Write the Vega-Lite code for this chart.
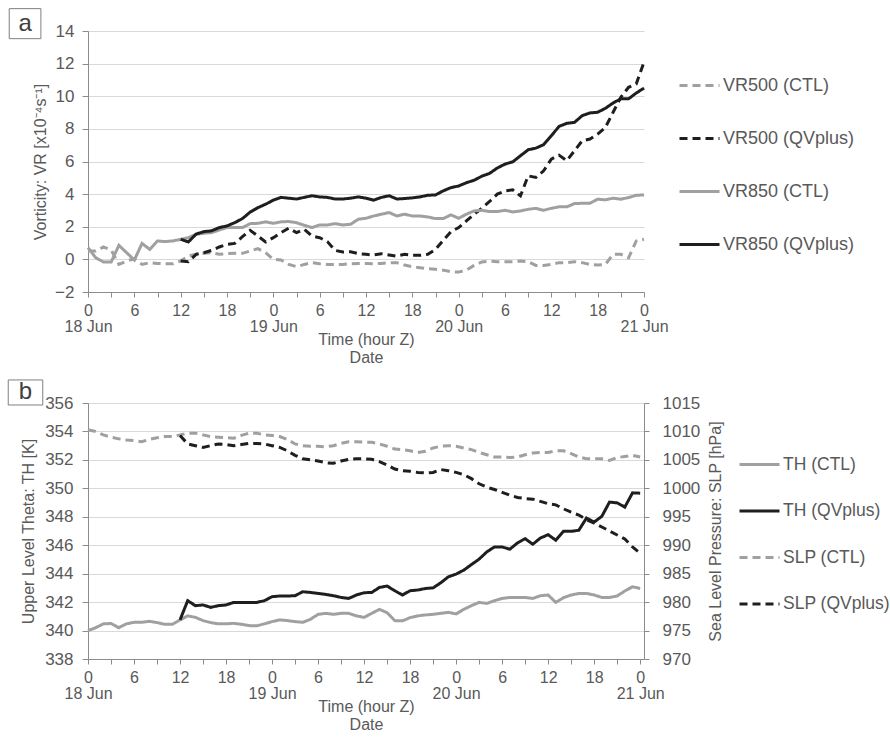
{
"$schema": "https://vega.github.io/schema/vega-lite/v6.json",
"padding": {"left": 7, "top": 8, "right": 5, "bottom": 0},
"spacing": 14,
"resolve": {"scale": {"color": "independent", "strokeDash": "independent"}, "legend": {"color": "independent", "strokeDash": "independent"}},
"config": {
  "font": "Liberation Sans",
  "view": {"stroke": null},
  "axis": {"labelFont": "Liberation Sans", "titleFont": "Liberation Sans", "labelColor": "#595959", "titleColor": "#595959", "titleFontWeight": "normal", "domainColor": "#8c8c8c", "tickColor": "#8c8c8c", "gridColor": "#d9d9d9", "labelFontSize": 17, "titleFontSize": 16},
  "legend": {"labelFont": "Liberation Sans", "labelFontSize": 18, "labelColor": "#595959", "symbolType": "stroke", "symbolSize": 1600, "symbolStrokeWidth": 3, "labelOffset": 2, "title": null}
},
"vconcat": [
{
  "width": 556, "height": 261,
  "layer": [
    {
      "data": {"values": [
{"s":"VR500 (CTL)","h":0,"v":0.51},{"s":"VR500 (CTL)","h":1,"v":0.51},{"s":"VR500 (CTL)","h":2,"v":0.76},{"s":"VR500 (CTL)","h":3,"v":0.57},{"s":"VR500 (CTL)","h":4,"v":-0.31},{"s":"VR500 (CTL)","h":5,"v":-0.1},{"s":"VR500 (CTL)","h":6,"v":0.04},{"s":"VR500 (CTL)","h":7,"v":-0.31},{"s":"VR500 (CTL)","h":8,"v":-0.2},{"s":"VR500 (CTL)","h":9,"v":-0.25},{"s":"VR500 (CTL)","h":10,"v":-0.27},{"s":"VR500 (CTL)","h":11,"v":-0.27},{"s":"VR500 (CTL)","h":12,"v":-0.1},{"s":"VR500 (CTL)","h":13,"v":0.2},{"s":"VR500 (CTL)","h":14,"v":0.31},{"s":"VR500 (CTL)","h":15,"v":0.37},{"s":"VR500 (CTL)","h":16,"v":0.41},{"s":"VR500 (CTL)","h":17,"v":0.31},{"s":"VR500 (CTL)","h":18,"v":0.35},{"s":"VR500 (CTL)","h":19,"v":0.37},{"s":"VR500 (CTL)","h":20,"v":0.37},{"s":"VR500 (CTL)","h":21,"v":0.51},{"s":"VR500 (CTL)","h":22,"v":0.66},{"s":"VR500 (CTL)","h":23,"v":0.41},{"s":"VR500 (CTL)","h":24,"v":0.0},{"s":"VR500 (CTL)","h":25,"v":-0.04},{"s":"VR500 (CTL)","h":26,"v":-0.31},{"s":"VR500 (CTL)","h":27,"v":-0.45},{"s":"VR500 (CTL)","h":28,"v":-0.31},{"s":"VR500 (CTL)","h":29,"v":-0.2},{"s":"VR500 (CTL)","h":30,"v":-0.27},{"s":"VR500 (CTL)","h":31,"v":-0.31},{"s":"VR500 (CTL)","h":32,"v":-0.31},{"s":"VR500 (CTL)","h":33,"v":-0.31},{"s":"VR500 (CTL)","h":34,"v":-0.27},{"s":"VR500 (CTL)","h":35,"v":-0.25},{"s":"VR500 (CTL)","h":36,"v":-0.25},{"s":"VR500 (CTL)","h":37,"v":-0.27},{"s":"VR500 (CTL)","h":38,"v":-0.25},{"s":"VR500 (CTL)","h":39,"v":-0.2},{"s":"VR500 (CTL)","h":40,"v":-0.2},{"s":"VR500 (CTL)","h":41,"v":-0.35},{"s":"VR500 (CTL)","h":42,"v":-0.45},{"s":"VR500 (CTL)","h":43,"v":-0.51},{"s":"VR500 (CTL)","h":44,"v":-0.57},{"s":"VR500 (CTL)","h":45,"v":-0.61},{"s":"VR500 (CTL)","h":46,"v":-0.66},{"s":"VR500 (CTL)","h":47,"v":-0.76},{"s":"VR500 (CTL)","h":48,"v":-0.78},{"s":"VR500 (CTL)","h":49,"v":-0.66},{"s":"VR500 (CTL)","h":50,"v":-0.37},{"s":"VR500 (CTL)","h":51,"v":-0.16},{"s":"VR500 (CTL)","h":52,"v":-0.1},{"s":"VR500 (CTL)","h":53,"v":-0.14},{"s":"VR500 (CTL)","h":54,"v":-0.14},{"s":"VR500 (CTL)","h":55,"v":-0.14},{"s":"VR500 (CTL)","h":56,"v":-0.1},{"s":"VR500 (CTL)","h":57,"v":-0.14},{"s":"VR500 (CTL)","h":58,"v":-0.37},{"s":"VR500 (CTL)","h":59,"v":-0.37},{"s":"VR500 (CTL)","h":60,"v":-0.31},{"s":"VR500 (CTL)","h":61,"v":-0.2},{"s":"VR500 (CTL)","h":62,"v":-0.2},{"s":"VR500 (CTL)","h":63,"v":-0.14},{"s":"VR500 (CTL)","h":64,"v":-0.2},{"s":"VR500 (CTL)","h":65,"v":-0.31},{"s":"VR500 (CTL)","h":66,"v":-0.35},{"s":"VR500 (CTL)","h":67,"v":-0.31},{"s":"VR500 (CTL)","h":68,"v":0.31},{"s":"VR500 (CTL)","h":69,"v":0.31},{"s":"VR500 (CTL)","h":70,"v":0.1},{"s":"VR500 (CTL)","h":71,"v":1.13},{"s":"VR500 (CTL)","h":72,"v":1.23},
{"s":"VR500 (QVplus)","h":12,"v":-0.1},{"s":"VR500 (QVplus)","h":13,"v":-0.14},{"s":"VR500 (QVplus)","h":14,"v":0.31},{"s":"VR500 (QVplus)","h":15,"v":0.41},{"s":"VR500 (QVplus)","h":16,"v":0.55},{"s":"VR500 (QVplus)","h":17,"v":0.76},{"s":"VR500 (QVplus)","h":18,"v":0.92},{"s":"VR500 (QVplus)","h":19,"v":0.98},{"s":"VR500 (QVplus)","h":20,"v":1.39},{"s":"VR500 (QVplus)","h":21,"v":1.78},{"s":"VR500 (QVplus)","h":22,"v":1.43},{"s":"VR500 (QVplus)","h":23,"v":1.07},{"s":"VR500 (QVplus)","h":24,"v":1.33},{"s":"VR500 (QVplus)","h":25,"v":1.64},{"s":"VR500 (QVplus)","h":26,"v":1.91},{"s":"VR500 (QVplus)","h":27,"v":1.64},{"s":"VR500 (QVplus)","h":28,"v":1.84},{"s":"VR500 (QVplus)","h":29,"v":1.43},{"s":"VR500 (QVplus)","h":30,"v":1.33},{"s":"VR500 (QVplus)","h":31,"v":1.09},{"s":"VR500 (QVplus)","h":32,"v":0.55},{"s":"VR500 (QVplus)","h":33,"v":0.45},{"s":"VR500 (QVplus)","h":34,"v":0.47},{"s":"VR500 (QVplus)","h":35,"v":0.35},{"s":"VR500 (QVplus)","h":36,"v":0.31},{"s":"VR500 (QVplus)","h":37,"v":0.27},{"s":"VR500 (QVplus)","h":38,"v":0.35},{"s":"VR500 (QVplus)","h":39,"v":0.27},{"s":"VR500 (QVplus)","h":40,"v":0.2},{"s":"VR500 (QVplus)","h":41,"v":0.31},{"s":"VR500 (QVplus)","h":42,"v":0.25},{"s":"VR500 (QVplus)","h":43,"v":0.25},{"s":"VR500 (QVplus)","h":44,"v":0.31},{"s":"VR500 (QVplus)","h":45,"v":0.61},{"s":"VR500 (QVplus)","h":46,"v":1.17},{"s":"VR500 (QVplus)","h":47,"v":1.7},{"s":"VR500 (QVplus)","h":48,"v":1.95},{"s":"VR500 (QVplus)","h":49,"v":2.36},{"s":"VR500 (QVplus)","h":50,"v":2.77},{"s":"VR500 (QVplus)","h":51,"v":3.13},{"s":"VR500 (QVplus)","h":52,"v":3.55},{"s":"VR500 (QVplus)","h":53,"v":4.0},{"s":"VR500 (QVplus)","h":54,"v":4.2},{"s":"VR500 (QVplus)","h":55,"v":4.26},{"s":"VR500 (QVplus)","h":56,"v":3.89},{"s":"VR500 (QVplus)","h":57,"v":5.12},{"s":"VR500 (QVplus)","h":58,"v":5.02},{"s":"VR500 (QVplus)","h":59,"v":5.43},{"s":"VR500 (QVplus)","h":60,"v":6.15},{"s":"VR500 (QVplus)","h":61,"v":6.39},{"s":"VR500 (QVplus)","h":62,"v":6.05},{"s":"VR500 (QVplus)","h":63,"v":6.66},{"s":"VR500 (QVplus)","h":64,"v":7.27},{"s":"VR500 (QVplus)","h":65,"v":7.38},{"s":"VR500 (QVplus)","h":66,"v":7.68},{"s":"VR500 (QVplus)","h":67,"v":8.09},{"s":"VR500 (QVplus)","h":68,"v":9.02},{"s":"VR500 (QVplus)","h":69,"v":9.94},{"s":"VR500 (QVplus)","h":70,"v":10.55},{"s":"VR500 (QVplus)","h":71,"v":10.76},{"s":"VR500 (QVplus)","h":72,"v":12.09},
{"s":"VR850 (CTL)","h":0,"v":0.72},{"s":"VR850 (CTL)","h":1,"v":0.1},{"s":"VR850 (CTL)","h":2,"v":-0.16},{"s":"VR850 (CTL)","h":3,"v":-0.16},{"s":"VR850 (CTL)","h":4,"v":0.86},{"s":"VR850 (CTL)","h":5,"v":0.41},{"s":"VR850 (CTL)","h":6,"v":-0.04},{"s":"VR850 (CTL)","h":7,"v":0.98},{"s":"VR850 (CTL)","h":8,"v":0.61},{"s":"VR850 (CTL)","h":9,"v":1.13},{"s":"VR850 (CTL)","h":10,"v":1.09},{"s":"VR850 (CTL)","h":11,"v":1.13},{"s":"VR850 (CTL)","h":12,"v":1.23},{"s":"VR850 (CTL)","h":13,"v":1.33},{"s":"VR850 (CTL)","h":14,"v":1.54},{"s":"VR850 (CTL)","h":15,"v":1.6},{"s":"VR850 (CTL)","h":16,"v":1.64},{"s":"VR850 (CTL)","h":17,"v":1.8},{"s":"VR850 (CTL)","h":18,"v":1.95},{"s":"VR850 (CTL)","h":19,"v":1.95},{"s":"VR850 (CTL)","h":20,"v":1.95},{"s":"VR850 (CTL)","h":21,"v":2.19},{"s":"VR850 (CTL)","h":22,"v":2.21},{"s":"VR850 (CTL)","h":23,"v":2.3},{"s":"VR850 (CTL)","h":24,"v":2.21},{"s":"VR850 (CTL)","h":25,"v":2.3},{"s":"VR850 (CTL)","h":26,"v":2.32},{"s":"VR850 (CTL)","h":27,"v":2.25},{"s":"VR850 (CTL)","h":28,"v":2.09},{"s":"VR850 (CTL)","h":29,"v":1.95},{"s":"VR850 (CTL)","h":30,"v":2.11},{"s":"VR850 (CTL)","h":31,"v":2.11},{"s":"VR850 (CTL)","h":32,"v":2.19},{"s":"VR850 (CTL)","h":33,"v":2.11},{"s":"VR850 (CTL)","h":34,"v":2.15},{"s":"VR850 (CTL)","h":35,"v":2.46},{"s":"VR850 (CTL)","h":36,"v":2.52},{"s":"VR850 (CTL)","h":37,"v":2.66},{"s":"VR850 (CTL)","h":38,"v":2.77},{"s":"VR850 (CTL)","h":39,"v":2.87},{"s":"VR850 (CTL)","h":40,"v":2.66},{"s":"VR850 (CTL)","h":41,"v":2.77},{"s":"VR850 (CTL)","h":42,"v":2.66},{"s":"VR850 (CTL)","h":43,"v":2.66},{"s":"VR850 (CTL)","h":44,"v":2.6},{"s":"VR850 (CTL)","h":45,"v":2.5},{"s":"VR850 (CTL)","h":46,"v":2.5},{"s":"VR850 (CTL)","h":47,"v":2.73},{"s":"VR850 (CTL)","h":48,"v":2.52},{"s":"VR850 (CTL)","h":49,"v":2.77},{"s":"VR850 (CTL)","h":50,"v":2.97},{"s":"VR850 (CTL)","h":51,"v":3.01},{"s":"VR850 (CTL)","h":52,"v":2.93},{"s":"VR850 (CTL)","h":53,"v":2.93},{"s":"VR850 (CTL)","h":54,"v":3.01},{"s":"VR850 (CTL)","h":55,"v":2.91},{"s":"VR850 (CTL)","h":56,"v":2.97},{"s":"VR850 (CTL)","h":57,"v":3.07},{"s":"VR850 (CTL)","h":58,"v":3.13},{"s":"VR850 (CTL)","h":59,"v":3.01},{"s":"VR850 (CTL)","h":60,"v":3.13},{"s":"VR850 (CTL)","h":61,"v":3.22},{"s":"VR850 (CTL)","h":62,"v":3.22},{"s":"VR850 (CTL)","h":63,"v":3.42},{"s":"VR850 (CTL)","h":64,"v":3.44},{"s":"VR850 (CTL)","h":65,"v":3.44},{"s":"VR850 (CTL)","h":66,"v":3.69},{"s":"VR850 (CTL)","h":67,"v":3.65},{"s":"VR850 (CTL)","h":68,"v":3.75},{"s":"VR850 (CTL)","h":69,"v":3.69},{"s":"VR850 (CTL)","h":70,"v":3.79},{"s":"VR850 (CTL)","h":71,"v":3.93},{"s":"VR850 (CTL)","h":72,"v":3.95},
{"s":"VR850 (QVplus)","h":12,"v":1.23},{"s":"VR850 (QVplus)","h":13,"v":1.07},{"s":"VR850 (QVplus)","h":14,"v":1.55},{"s":"VR850 (QVplus)","h":15,"v":1.7},{"s":"VR850 (QVplus)","h":16,"v":1.75},{"s":"VR850 (QVplus)","h":17,"v":1.95},{"s":"VR850 (QVplus)","h":18,"v":2.05},{"s":"VR850 (QVplus)","h":19,"v":2.25},{"s":"VR850 (QVplus)","h":20,"v":2.5},{"s":"VR850 (QVplus)","h":21,"v":2.9},{"s":"VR850 (QVplus)","h":22,"v":3.17},{"s":"VR850 (QVplus)","h":23,"v":3.38},{"s":"VR850 (QVplus)","h":24,"v":3.63},{"s":"VR850 (QVplus)","h":25,"v":3.8},{"s":"VR850 (QVplus)","h":26,"v":3.75},{"s":"VR850 (QVplus)","h":27,"v":3.7},{"s":"VR850 (QVplus)","h":28,"v":3.8},{"s":"VR850 (QVplus)","h":29,"v":3.9},{"s":"VR850 (QVplus)","h":30,"v":3.83},{"s":"VR850 (QVplus)","h":31,"v":3.8},{"s":"VR850 (QVplus)","h":32,"v":3.7},{"s":"VR850 (QVplus)","h":33,"v":3.7},{"s":"VR850 (QVplus)","h":34,"v":3.75},{"s":"VR850 (QVplus)","h":35,"v":3.83},{"s":"VR850 (QVplus)","h":36,"v":3.75},{"s":"VR850 (QVplus)","h":37,"v":3.63},{"s":"VR850 (QVplus)","h":38,"v":3.8},{"s":"VR850 (QVplus)","h":39,"v":3.9},{"s":"VR850 (QVplus)","h":40,"v":3.7},{"s":"VR850 (QVplus)","h":41,"v":3.73},{"s":"VR850 (QVplus)","h":42,"v":3.77},{"s":"VR850 (QVplus)","h":43,"v":3.83},{"s":"VR850 (QVplus)","h":44,"v":3.93},{"s":"VR850 (QVplus)","h":45,"v":3.95},{"s":"VR850 (QVplus)","h":46,"v":4.2},{"s":"VR850 (QVplus)","h":47,"v":4.4},{"s":"VR850 (QVplus)","h":48,"v":4.5},{"s":"VR850 (QVplus)","h":49,"v":4.7},{"s":"VR850 (QVplus)","h":50,"v":4.85},{"s":"VR850 (QVplus)","h":51,"v":5.1},{"s":"VR850 (QVplus)","h":52,"v":5.27},{"s":"VR850 (QVplus)","h":53,"v":5.6},{"s":"VR850 (QVplus)","h":54,"v":5.84},{"s":"VR850 (QVplus)","h":55,"v":5.98},{"s":"VR850 (QVplus)","h":56,"v":6.35},{"s":"VR850 (QVplus)","h":57,"v":6.72},{"s":"VR850 (QVplus)","h":58,"v":6.82},{"s":"VR850 (QVplus)","h":59,"v":7.03},{"s":"VR850 (QVplus)","h":60,"v":7.58},{"s":"VR850 (QVplus)","h":61,"v":8.15},{"s":"VR850 (QVplus)","h":62,"v":8.34},{"s":"VR850 (QVplus)","h":63,"v":8.4},{"s":"VR850 (QVplus)","h":64,"v":8.81},{"s":"VR850 (QVplus)","h":65,"v":8.98},{"s":"VR850 (QVplus)","h":66,"v":9.02},{"s":"VR850 (QVplus)","h":67,"v":9.26},{"s":"VR850 (QVplus)","h":68,"v":9.59},{"s":"VR850 (QVplus)","h":69,"v":9.84},{"s":"VR850 (QVplus)","h":70,"v":9.84},{"s":"VR850 (QVplus)","h":71,"v":10.2},{"s":"VR850 (QVplus)","h":72,"v":10.5}
      ]},
      "mark": {"type": "line", "strokeWidth": 3},
      "encoding": {
        "x": {"field": "h", "type": "quantitative", "scale": {"domain": [0, 72], "nice": false},
              "axis": {"values": [0,3,6,9,12,15,18,21,24,27,30,33,36,39,42,45,48,51,54,57,60,63,66,69,72], "tickCount": 100, "grid": false, "tickSize": 5, "labelFontSize": 16, "labelPadding": 5, "labelLineHeight": 16, "labelFlush": false, "labelBound": false, "labelOverlap": false,
                       "labelExpr": "datum.value % 24 == 0 ? ['0', ['18 Jun','19 Jun','20 Jun','21 Jun'][datum.value / 24]] : (datum.value % 6 == 0 ? '' + (datum.value % 24) : '')",
                       "title": ["Time (hour Z)", "Date"], "titlePadding": -3, "titleFontSize": 16}},
        "y": {"field": "v", "type": "quantitative", "scale": {"domain": [-2, 14], "nice": false},
              "axis": {"values": [-2,0,2,4,6,8,10,12,14], "tickCount": 100, "grid": true, "tickSize": 6, "labelPadding": 8, "labelOverlap": false, "labelBound": false, "format": "d", "title": "Vorticity: VR [x10⁻⁴s⁻¹]", "titlePadding": 6}},
        "color": {"field": "s", "type": "nominal", "scale": {"domain": ["VR500 (CTL)","VR500 (QVplus)","VR850 (CTL)","VR850 (QVplus)"], "range": ["#a0a0a0","#1e1e1e","#a0a0a0","#1e1e1e"]},
                  "legend": {"orient": "none", "legendX": 590, "legendY": 33, "rowPadding": 22}},
        "strokeDash": {"field": "s", "type": "nominal", "scale": {"domain": ["VR500 (CTL)","VR500 (QVplus)","VR850 (CTL)","VR850 (QVplus)"], "range": [[8,5],[8,5],[1,0],[1,0]]}}
      }
    },
    {
      "data": {"values": [{}]},
      "mark": {"type": "rect", "filled": false, "stroke": "#7f7f7f", "strokeWidth": 1},
      "encoding": {"x": {"datum": -10.2}, "x2": {"datum": -6.1}, "y": {"datum": 15.37}, "y2": {"datum": 13.53}}
    },
    {
      "data": {"values": [{}]},
      "mark": {"type": "text", "fontSize": 24, "fill": "#404040", "align": "center", "baseline": "middle", "font": "Liberation Sans"},
      "encoding": {"x": {"datum": -8.15}, "y": {"datum": 14.45}, "text": {"value": "a"}}
    }
  ]
},
{
  "width": 556, "height": 256,
  "layer": [
    {
      "layer": [
        {
          "data": {"values": [
{"s":"TH (CTL)","h":0,"v":340.0},{"s":"TH (CTL)","h":1,"v":340.2},{"s":"TH (CTL)","h":2,"v":340.47},{"s":"TH (CTL)","h":3,"v":340.5},{"s":"TH (CTL)","h":4,"v":340.2},{"s":"TH (CTL)","h":5,"v":340.47},{"s":"TH (CTL)","h":6,"v":340.58},{"s":"TH (CTL)","h":7,"v":340.58},{"s":"TH (CTL)","h":8,"v":340.65},{"s":"TH (CTL)","h":9,"v":340.56},{"s":"TH (CTL)","h":10,"v":340.44},{"s":"TH (CTL)","h":11,"v":340.44},{"s":"TH (CTL)","h":12,"v":340.75},{"s":"TH (CTL)","h":13,"v":341.03},{"s":"TH (CTL)","h":14,"v":340.93},{"s":"TH (CTL)","h":15,"v":340.7},{"s":"TH (CTL)","h":16,"v":340.56},{"s":"TH (CTL)","h":17,"v":340.47},{"s":"TH (CTL)","h":18,"v":340.47},{"s":"TH (CTL)","h":19,"v":340.51},{"s":"TH (CTL)","h":20,"v":340.44},{"s":"TH (CTL)","h":21,"v":340.35},{"s":"TH (CTL)","h":22,"v":340.33},{"s":"TH (CTL)","h":23,"v":340.47},{"s":"TH (CTL)","h":24,"v":340.63},{"s":"TH (CTL)","h":25,"v":340.75},{"s":"TH (CTL)","h":26,"v":340.7},{"s":"TH (CTL)","h":27,"v":340.63},{"s":"TH (CTL)","h":28,"v":340.58},{"s":"TH (CTL)","h":29,"v":340.79},{"s":"TH (CTL)","h":30,"v":341.14},{"s":"TH (CTL)","h":31,"v":341.21},{"s":"TH (CTL)","h":32,"v":341.14},{"s":"TH (CTL)","h":33,"v":341.21},{"s":"TH (CTL)","h":34,"v":341.21},{"s":"TH (CTL)","h":35,"v":341.03},{"s":"TH (CTL)","h":36,"v":340.93},{"s":"TH (CTL)","h":37,"v":341.21},{"s":"TH (CTL)","h":38,"v":341.49},{"s":"TH (CTL)","h":39,"v":341.26},{"s":"TH (CTL)","h":40,"v":340.7},{"s":"TH (CTL)","h":41,"v":340.68},{"s":"TH (CTL)","h":42,"v":340.91},{"s":"TH (CTL)","h":43,"v":341.03},{"s":"TH (CTL)","h":44,"v":341.1},{"s":"TH (CTL)","h":45,"v":341.14},{"s":"TH (CTL)","h":46,"v":341.21},{"s":"TH (CTL)","h":47,"v":341.28},{"s":"TH (CTL)","h":48,"v":341.17},{"s":"TH (CTL)","h":49,"v":341.49},{"s":"TH (CTL)","h":50,"v":341.75},{"s":"TH (CTL)","h":51,"v":341.98},{"s":"TH (CTL)","h":52,"v":341.91},{"s":"TH (CTL)","h":53,"v":342.1},{"s":"TH (CTL)","h":54,"v":342.26},{"s":"TH (CTL)","h":55,"v":342.33},{"s":"TH (CTL)","h":56,"v":342.33},{"s":"TH (CTL)","h":57,"v":342.33},{"s":"TH (CTL)","h":58,"v":342.26},{"s":"TH (CTL)","h":59,"v":342.45},{"s":"TH (CTL)","h":60,"v":342.5},{"s":"TH (CTL)","h":61,"v":341.98},{"s":"TH (CTL)","h":62,"v":342.31},{"s":"TH (CTL)","h":63,"v":342.5},{"s":"TH (CTL)","h":64,"v":342.61},{"s":"TH (CTL)","h":65,"v":342.61},{"s":"TH (CTL)","h":66,"v":342.5},{"s":"TH (CTL)","h":67,"v":342.33},{"s":"TH (CTL)","h":68,"v":342.33},{"s":"TH (CTL)","h":69,"v":342.43},{"s":"TH (CTL)","h":70,"v":342.78},{"s":"TH (CTL)","h":71,"v":343.08},{"s":"TH (CTL)","h":72,"v":342.96},
{"s":"TH (QVplus)","h":12,"v":340.75},{"s":"TH (QVplus)","h":13,"v":342.1},{"s":"TH (QVplus)","h":14,"v":341.75},{"s":"TH (QVplus)","h":15,"v":341.8},{"s":"TH (QVplus)","h":16,"v":341.63},{"s":"TH (QVplus)","h":17,"v":341.75},{"s":"TH (QVplus)","h":18,"v":341.8},{"s":"TH (QVplus)","h":19,"v":341.98},{"s":"TH (QVplus)","h":20,"v":341.98},{"s":"TH (QVplus)","h":21,"v":341.98},{"s":"TH (QVplus)","h":22,"v":341.98},{"s":"TH (QVplus)","h":23,"v":342.1},{"s":"TH (QVplus)","h":24,"v":342.38},{"s":"TH (QVplus)","h":25,"v":342.43},{"s":"TH (QVplus)","h":26,"v":342.43},{"s":"TH (QVplus)","h":27,"v":342.45},{"s":"TH (QVplus)","h":28,"v":342.73},{"s":"TH (QVplus)","h":29,"v":342.68},{"s":"TH (QVplus)","h":30,"v":342.61},{"s":"TH (QVplus)","h":31,"v":342.54},{"s":"TH (QVplus)","h":32,"v":342.45},{"s":"TH (QVplus)","h":33,"v":342.33},{"s":"TH (QVplus)","h":34,"v":342.26},{"s":"TH (QVplus)","h":35,"v":342.5},{"s":"TH (QVplus)","h":36,"v":342.66},{"s":"TH (QVplus)","h":37,"v":342.68},{"s":"TH (QVplus)","h":38,"v":343.03},{"s":"TH (QVplus)","h":39,"v":343.13},{"s":"TH (QVplus)","h":40,"v":342.8},{"s":"TH (QVplus)","h":41,"v":342.5},{"s":"TH (QVplus)","h":42,"v":342.8},{"s":"TH (QVplus)","h":43,"v":342.85},{"s":"TH (QVplus)","h":44,"v":342.96},{"s":"TH (QVplus)","h":45,"v":343.0},{"s":"TH (QVplus)","h":46,"v":343.36},{"s":"TH (QVplus)","h":47,"v":343.78},{"s":"TH (QVplus)","h":48,"v":343.97},{"s":"TH (QVplus)","h":49,"v":344.25},{"s":"TH (QVplus)","h":50,"v":344.64},{"s":"TH (QVplus)","h":51,"v":345.02},{"s":"TH (QVplus)","h":52,"v":345.53},{"s":"TH (QVplus)","h":53,"v":345.88},{"s":"TH (QVplus)","h":54,"v":345.88},{"s":"TH (QVplus)","h":55,"v":345.72},{"s":"TH (QVplus)","h":56,"v":346.16},{"s":"TH (QVplus)","h":57,"v":346.46},{"s":"TH (QVplus)","h":58,"v":346.07},{"s":"TH (QVplus)","h":59,"v":346.51},{"s":"TH (QVplus)","h":60,"v":346.74},{"s":"TH (QVplus)","h":61,"v":346.35},{"s":"TH (QVplus)","h":62,"v":346.98},{"s":"TH (QVplus)","h":63,"v":346.98},{"s":"TH (QVplus)","h":64,"v":347.05},{"s":"TH (QVplus)","h":65,"v":347.91},{"s":"TH (QVplus)","h":66,"v":347.63},{"s":"TH (QVplus)","h":67,"v":348.03},{"s":"TH (QVplus)","h":68,"v":349.03},{"s":"TH (QVplus)","h":69,"v":348.98},{"s":"TH (QVplus)","h":70,"v":348.68},{"s":"TH (QVplus)","h":71,"v":349.68},{"s":"TH (QVplus)","h":72,"v":349.66}
          ]},
          "mark": {"type": "line", "strokeWidth": 3},
          "encoding": {
            "x": {"field": "h", "type": "quantitative", "scale": {"domain": [0, 72.5], "nice": false},
                  "axis": {"values": [0,3,6,9,12,15,18,21,24,27,30,33,36,39,42,45,48,51,54,57,60,63,66,69,72], "tickCount": 100, "grid": false, "tickSize": 5, "labelFontSize": 16, "labelPadding": 5, "labelLineHeight": 16, "labelFlush": false, "labelBound": false, "labelOverlap": false,
                           "labelExpr": "datum.value % 24 == 0 ? ['0', ['18 Jun','19 Jun','20 Jun','21 Jun'][datum.value / 24]] : (datum.value % 6 == 0 ? '' + (datum.value % 24) : '')",
                           "title": ["Time (hour Z)", "Date"], "titlePadding": -3, "titleFontSize": 16}},
            "y": {"field": "v", "type": "quantitative", "scale": {"domain": [338, 356], "nice": false, "zero": false},
                  "axis": {"values": [338,340,342,344,346,348,350,352,354,356], "tickCount": 100, "grid": true, "tickSize": 6, "labelPadding": 9, "labelOverlap": false, "labelBound": false, "format": "d", "title": "Upper Level Theta: TH [K]", "titlePadding": 8}},
            "color": {"field": "s", "type": "nominal", "scale": {"domain": ["TH (CTL)","TH (QVplus)","SLP (CTL)","SLP (QVplus)"], "range": ["#a0a0a0","#1e1e1e","#a0a0a0","#1e1e1e"]},
                      "legend": {"orient": "none", "legendX": 650, "legendY": 40, "rowPadding": 16.5, "labelFontSize": 17.5}},
            "strokeDash": {"field": "s", "type": "nominal", "scale": {"domain": ["TH (CTL)","TH (QVplus)","SLP (CTL)","SLP (QVplus)"], "range": [[1,0],[1,0],[8,5],[8,5]]}}
          }
        },
        {
          "data": {"values": [{}]},
          "mark": {"type": "rect", "filled": false, "stroke": "#7f7f7f", "strokeWidth": 1},
          "encoding": {"x": {"datum": -10.4}, "x2": {"datum": -5.9}, "y": {"datum": 357.62}, "y2": {"datum": 355.86}}
        },
        {
          "data": {"values": [{}]},
          "mark": {"type": "text", "fontSize": 24, "fill": "#404040", "align": "center", "baseline": "middle", "font": "Liberation Sans"},
          "encoding": {"x": {"datum": -8.15}, "y": {"datum": 356.74}, "text": {"value": "b"}}
        }
      ]
    },
    {
      "data": {"values": [
{"s":"SLP (CTL)","h":0,"v":1010.3},{"s":"SLP (CTL)","h":1,"v":1010.0},{"s":"SLP (CTL)","h":2,"v":1009.4},{"s":"SLP (CTL)","h":3,"v":1009.0},{"s":"SLP (CTL)","h":4,"v":1008.7},{"s":"SLP (CTL)","h":5,"v":1008.5},{"s":"SLP (CTL)","h":6,"v":1008.4},{"s":"SLP (CTL)","h":7,"v":1008.2},{"s":"SLP (CTL)","h":8,"v":1008.6},{"s":"SLP (CTL)","h":9,"v":1008.9},{"s":"SLP (CTL)","h":10,"v":1009.1},{"s":"SLP (CTL)","h":11,"v":1009.1},{"s":"SLP (CTL)","h":12,"v":1009.4},{"s":"SLP (CTL)","h":13,"v":1009.7},{"s":"SLP (CTL)","h":14,"v":1009.7},{"s":"SLP (CTL)","h":15,"v":1009.4},{"s":"SLP (CTL)","h":16,"v":1009.1},{"s":"SLP (CTL)","h":17,"v":1009.0},{"s":"SLP (CTL)","h":18,"v":1008.9},{"s":"SLP (CTL)","h":19,"v":1008.8},{"s":"SLP (CTL)","h":20,"v":1009.3},{"s":"SLP (CTL)","h":21,"v":1009.7},{"s":"SLP (CTL)","h":22,"v":1009.7},{"s":"SLP (CTL)","h":23,"v":1009.4},{"s":"SLP (CTL)","h":24,"v":1009.3},{"s":"SLP (CTL)","h":25,"v":1009.1},{"s":"SLP (CTL)","h":26,"v":1008.6},{"s":"SLP (CTL)","h":27,"v":1007.8},{"s":"SLP (CTL)","h":28,"v":1007.5},{"s":"SLP (CTL)","h":29,"v":1007.4},{"s":"SLP (CTL)","h":30,"v":1007.4},{"s":"SLP (CTL)","h":31,"v":1007.3},{"s":"SLP (CTL)","h":32,"v":1007.5},{"s":"SLP (CTL)","h":33,"v":1007.9},{"s":"SLP (CTL)","h":34,"v":1008.2},{"s":"SLP (CTL)","h":35,"v":1008.2},{"s":"SLP (CTL)","h":36,"v":1008.1},{"s":"SLP (CTL)","h":37,"v":1008.1},{"s":"SLP (CTL)","h":38,"v":1007.8},{"s":"SLP (CTL)","h":39,"v":1007.4},{"s":"SLP (CTL)","h":40,"v":1006.9},{"s":"SLP (CTL)","h":41,"v":1006.8},{"s":"SLP (CTL)","h":42,"v":1006.6},{"s":"SLP (CTL)","h":43,"v":1006.3},{"s":"SLP (CTL)","h":44,"v":1006.5},{"s":"SLP (CTL)","h":45,"v":1007.1},{"s":"SLP (CTL)","h":46,"v":1007.4},{"s":"SLP (CTL)","h":47,"v":1007.5},{"s":"SLP (CTL)","h":48,"v":1007.4},{"s":"SLP (CTL)","h":49,"v":1007.1},{"s":"SLP (CTL)","h":50,"v":1006.8},{"s":"SLP (CTL)","h":51,"v":1006.3},{"s":"SLP (CTL)","h":52,"v":1005.9},{"s":"SLP (CTL)","h":53,"v":1005.5},{"s":"SLP (CTL)","h":54,"v":1005.5},{"s":"SLP (CTL)","h":55,"v":1005.4},{"s":"SLP (CTL)","h":56,"v":1005.5},{"s":"SLP (CTL)","h":57,"v":1005.9},{"s":"SLP (CTL)","h":58,"v":1006.2},{"s":"SLP (CTL)","h":59,"v":1006.3},{"s":"SLP (CTL)","h":60,"v":1006.3},{"s":"SLP (CTL)","h":61,"v":1006.6},{"s":"SLP (CTL)","h":62,"v":1006.6},{"s":"SLP (CTL)","h":63,"v":1006.1},{"s":"SLP (CTL)","h":64,"v":1005.5},{"s":"SLP (CTL)","h":65,"v":1005.2},{"s":"SLP (CTL)","h":66,"v":1005.2},{"s":"SLP (CTL)","h":67,"v":1005.2},{"s":"SLP (CTL)","h":68,"v":1004.9},{"s":"SLP (CTL)","h":69,"v":1005.4},{"s":"SLP (CTL)","h":70,"v":1005.6},{"s":"SLP (CTL)","h":71,"v":1005.8},{"s":"SLP (CTL)","h":72,"v":1005.5},
{"s":"SLP (QVplus)","h":12,"v":1009.3},{"s":"SLP (QVplus)","h":13,"v":1007.8},{"s":"SLP (QVplus)","h":14,"v":1007.5},{"s":"SLP (QVplus)","h":15,"v":1007.2},{"s":"SLP (QVplus)","h":16,"v":1007.5},{"s":"SLP (QVplus)","h":17,"v":1007.8},{"s":"SLP (QVplus)","h":18,"v":1007.7},{"s":"SLP (QVplus)","h":19,"v":1007.5},{"s":"SLP (QVplus)","h":20,"v":1007.7},{"s":"SLP (QVplus)","h":21,"v":1007.9},{"s":"SLP (QVplus)","h":22,"v":1007.9},{"s":"SLP (QVplus)","h":23,"v":1007.8},{"s":"SLP (QVplus)","h":24,"v":1007.5},{"s":"SLP (QVplus)","h":25,"v":1007.2},{"s":"SLP (QVplus)","h":26,"v":1006.6},{"s":"SLP (QVplus)","h":27,"v":1005.8},{"s":"SLP (QVplus)","h":28,"v":1005.2},{"s":"SLP (QVplus)","h":29,"v":1005.0},{"s":"SLP (QVplus)","h":30,"v":1004.8},{"s":"SLP (QVplus)","h":31,"v":1004.5},{"s":"SLP (QVplus)","h":32,"v":1004.4},{"s":"SLP (QVplus)","h":33,"v":1004.8},{"s":"SLP (QVplus)","h":34,"v":1005.1},{"s":"SLP (QVplus)","h":35,"v":1005.2},{"s":"SLP (QVplus)","h":36,"v":1005.2},{"s":"SLP (QVplus)","h":37,"v":1005.1},{"s":"SLP (QVplus)","h":38,"v":1004.7},{"s":"SLP (QVplus)","h":39,"v":1004.1},{"s":"SLP (QVplus)","h":40,"v":1003.4},{"s":"SLP (QVplus)","h":41,"v":1003.1},{"s":"SLP (QVplus)","h":42,"v":1003.0},{"s":"SLP (QVplus)","h":43,"v":1002.8},{"s":"SLP (QVplus)","h":44,"v":1002.7},{"s":"SLP (QVplus)","h":45,"v":1002.8},{"s":"SLP (QVplus)","h":46,"v":1003.3},{"s":"SLP (QVplus)","h":47,"v":1003.1},{"s":"SLP (QVplus)","h":48,"v":1002.8},{"s":"SLP (QVplus)","h":49,"v":1002.4},{"s":"SLP (QVplus)","h":50,"v":1001.7},{"s":"SLP (QVplus)","h":51,"v":1000.8},{"s":"SLP (QVplus)","h":52,"v":1000.2},{"s":"SLP (QVplus)","h":53,"v":999.8},{"s":"SLP (QVplus)","h":54,"v":999.3},{"s":"SLP (QVplus)","h":55,"v":998.8},{"s":"SLP (QVplus)","h":56,"v":998.4},{"s":"SLP (QVplus)","h":57,"v":998.2},{"s":"SLP (QVplus)","h":58,"v":998.1},{"s":"SLP (QVplus)","h":59,"v":997.7},{"s":"SLP (QVplus)","h":60,"v":997.3},{"s":"SLP (QVplus)","h":61,"v":997.1},{"s":"SLP (QVplus)","h":62,"v":996.4},{"s":"SLP (QVplus)","h":63,"v":995.8},{"s":"SLP (QVplus)","h":64,"v":995.3},{"s":"SLP (QVplus)","h":65,"v":994.5},{"s":"SLP (QVplus)","h":66,"v":993.9},{"s":"SLP (QVplus)","h":67,"v":993.2},{"s":"SLP (QVplus)","h":68,"v":992.5},{"s":"SLP (QVplus)","h":69,"v":991.8},{"s":"SLP (QVplus)","h":70,"v":991.1},{"s":"SLP (QVplus)","h":71,"v":989.7},{"s":"SLP (QVplus)","h":72,"v":988.6}
      ]},
      "mark": {"type": "line", "strokeWidth": 3},
      "encoding": {
        "x": {"field": "h", "type": "quantitative"},
        "y": {"field": "v", "type": "quantitative", "scale": {"domain": [970, 1015], "nice": false, "zero": false},
              "axis": {"orient": "right", "values": [970,975,980,985,990,995,1000,1005,1010,1015], "tickCount": 100, "grid": false, "tickSize": 5, "labelPadding": 13, "labelOverlap": false, "labelBound": false, "format": "d", "title": "Sea Level Pressure: SLP [hPa]", "titleAngle": 270, "titleBaseline": "top", "titlePadding": 8}},
        "color": {"field": "s", "type": "nominal"},
        "strokeDash": {"field": "s", "type": "nominal"}
      }
    }
  ],
  "resolve": {"scale": {"y": "independent"}}
}
]
}
